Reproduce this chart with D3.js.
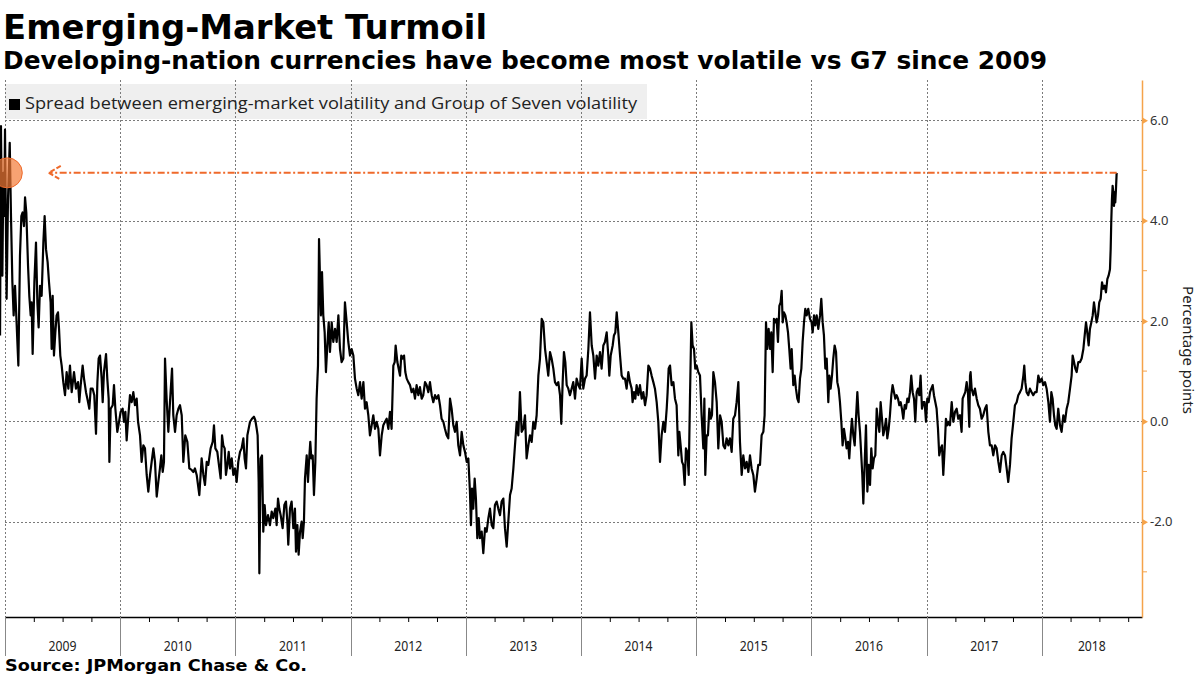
<!DOCTYPE html>
<html><head><meta charset="utf-8">
<script src="https://cdn.jsdelivr.net/npm/d3@7"></script>
<style>body{margin:0;background:#fff}svg{display:block}</style>
</head><body>
<svg id="chart" width="1200" height="675"></svg>
<script>
// ---- DATA (decimal year, percentage points) ----
const dates = [
2008.957,2008.965,2008.977,2008.986,2008.994,2009.000,2009.014,2009.026,2009.041,2009.052,2009.064,2009.075,2009.087,2009.098,2009.116,2009.130,2009.142,2009.153,2009.165,2009.174,2009.185,2009.200,2009.211,2009.223,2009.231,2009.240,2009.255,2009.269,2009.281,2009.292,2009.304,2009.318,2009.333,2009.344,2009.356,2009.370,2009.382,2009.396,2009.405,2009.414,2009.425,2009.437,2009.448,2009.460,2009.469,2009.480,2009.492,2009.506,2009.521,2009.535,2009.550,2009.564,2009.579,2009.599,2009.616,2009.634,2009.645,2009.657,2009.674,2009.686,2009.703,2009.715,2009.732,2009.744,2009.761,2009.775,2009.790,2009.802,2009.813,2009.825,2009.839,2009.848,2009.859,2009.877,2009.888,2009.900,2009.906,2009.917,2009.935,2009.946,2009.958,2009.975,2009.990,2010.004,2010.021,2010.033,2010.045,2010.056,2010.071,2010.085,2010.100,2010.114,2010.128,2010.143,2010.155,2010.172,2010.186,2010.201,2010.215,2010.230,2010.244,2010.259,2010.273,2010.288,2010.302,2010.317,2010.331,2010.345,2010.357,2010.369,2010.380,2010.389,2010.403,2010.418,2010.432,2010.450,2010.461,2010.476,2010.490,2010.505,2010.519,2010.534,2010.548,2010.565,2010.583,2010.600,
2010.620,2010.635,2010.649,2010.664,2010.687,2010.707,2010.722,2010.736,2010.751,2010.765,2010.785,2010.803,2010.814,2010.826,2010.843,2010.861,2010.872,2010.884,2010.895,2010.907,2010.918,2010.930,2010.942,2010.953,2010.968,2010.982,2010.997,2011.011,2011.025,2011.040,2011.054,2011.069,2011.080,2011.092,2011.104,2011.115,2011.127,2011.144,2011.161,2011.173,2011.185,2011.193,2011.202,2011.208,2011.219,2011.231,2011.242,2011.254,2011.266,2011.283,2011.300,2011.315,2011.329,2011.347,2011.358,2011.370,2011.381,2011.393,2011.410,2011.425,2011.439,2011.451,2011.459,2011.474,2011.488,2011.503,2011.517,2011.526,2011.538,2011.549,2011.561,2011.575,2011.584,2011.595,2011.604,2011.619,2011.630,2011.639,2011.650,2011.659,2011.671,2011.682,2011.694,2011.705,2011.717,2011.726,2011.734,2011.743,2011.752,2011.763,2011.775,2011.786,2011.798,2011.810,2011.821,2011.836,2011.850,2011.865,2011.879,2011.894,2011.908,2011.922,2011.937,2011.951,2011.966,2011.980,2011.995,2012.009,2012.024,2012.038,2012.053,2012.067,2012.082,2012.096,2012.111,2012.125,2012.139,2012.154,2012.168,2012.183,2012.197,2012.212,2012.226,2012.241,
2012.255,2012.270,2012.284,2012.299,2012.313,2012.328,2012.342,2012.356,2012.371,2012.383,2012.391,2012.406,2012.417,2012.429,2012.440,2012.452,2012.464,2012.475,2012.487,2012.501,2012.516,2012.530,2012.545,2012.559,2012.573,2012.588,2012.602,2012.617,2012.631,2012.646,2012.660,2012.675,2012.689,2012.704,2012.718,2012.733,2012.747,2012.762,2012.776,2012.790,2012.805,2012.819,2012.834,2012.848,2012.863,2012.877,2012.892,2012.906,2012.921,2012.935,2012.950,2012.964,2012.979,2012.993,2013.008,2013.022,2013.036,2013.045,2013.054,2013.065,2013.077,2013.088,2013.100,2013.112,2013.123,2013.138,2013.152,2013.167,2013.181,2013.196,2013.210,2013.225,2013.239,2013.253,2013.268,2013.282,2013.297,2013.311,2013.326,2013.340,2013.355,2013.369,2013.384,2013.398,2013.413,2013.427,2013.442,2013.456,2013.470,2013.485,2013.499,2013.514,2013.528,2013.543,2013.557,2013.572,2013.586,2013.601,2013.615,2013.630,2013.644,2013.659,2013.673,2013.688,2013.702,2013.716,2013.731,2013.745,2013.760,2013.774,2013.789,2013.803,2013.818,2013.829,2013.841,2013.852,2013.864,2013.876,2013.890,
2013.904,2013.919,2013.933,2013.948,2013.962,2013.977,2013.991,2014.006,2014.020,2014.035,2014.049,2014.064,2014.078,2014.093,2014.107,2014.122,2014.136,2014.150,2014.165,2014.179,2014.194,2014.208,2014.223,2014.237,2014.246,2014.258,2014.275,2014.286,2014.298,2014.310,2014.324,2014.339,2014.353,2014.367,2014.382,2014.396,2014.411,2014.425,2014.440,2014.448,2014.460,2014.472,2014.483,2014.498,2014.512,2014.527,2014.541,2014.556,2014.570,2014.585,2014.599,2014.613,2014.628,2014.642,2014.657,2014.671,2014.686,2014.700,2014.715,2014.729,2014.744,2014.752,2014.761,2014.773,2014.787,2014.802,2014.816,2014.830,2014.845,2014.854,2014.865,2014.877,2014.888,2014.900,2014.911,2014.923,2014.935,2014.946,2014.958,2014.969,2014.981,2014.992,2015.004,2015.018,2015.033,2015.047,2015.062,2015.071,2015.079,2015.091,2015.102,2015.114,2015.126,2015.137,2015.149,2015.163,2015.178,2015.192,2015.207,2015.221,2015.236,2015.250,2015.264,2015.279,2015.293,2015.308,2015.322,2015.337,2015.351,2015.366,2015.380,2015.395,2015.409,2015.424,2015.438,2015.453,2015.467,2015.481,2015.496,2015.510,2015.525,2015.539,
2015.554,2015.568,2015.583,2015.594,2015.606,2015.617,2015.629,2015.641,2015.652,2015.664,2015.675,2015.687,2015.698,2015.710,2015.722,2015.733,2015.742,2015.751,2015.762,2015.774,2015.785,2015.797,2015.808,2015.820,2015.829,2015.843,2015.855,2015.866,2015.878,2015.889,2015.901,2015.913,2015.924,2015.936,2015.947,2015.959,2015.973,2015.988,2016.002,2016.011,2016.023,2016.034,2016.046,2016.060,2016.075,2016.086,2016.098,2016.109,2016.121,2016.133,2016.147,2016.156,2016.167,2016.179,2016.190,2016.202,2016.214,2016.225,2016.237,2016.248,2016.260,2016.271,2016.283,2016.295,2016.306,2016.318,2016.329,2016.341,2016.352,2016.364,2016.376,2016.387,2016.399,2016.410,2016.422,2016.433,2016.442,2016.451,2016.462,2016.474,2016.486,2016.497,2016.509,2016.520,2016.532,2016.543,2016.555,2016.567,2016.578,2016.590,2016.601,2016.613,2016.624,2016.636,2016.648,2016.659,2016.671,2016.682,2016.694,2016.705,2016.717,2016.729,2016.740,2016.752,2016.763,2016.775,2016.786,2016.798,2016.810,2016.821,2016.833,2016.844,2016.856,2016.867,2016.879,2016.891,2016.902,2016.914,2016.925,2016.937,2016.948,2016.960,2016.972,2016.983,2016.995,2017.006,2017.018,2017.030,2017.041,2017.053,2017.064,2017.076,2017.087,2017.099,2017.110,2017.122,2017.134,2017.145,2017.157,2017.168,2017.180,2017.191,
2017.203,2017.218,2017.232,2017.247,2017.261,2017.275,2017.290,2017.304,2017.313,2017.325,2017.336,2017.348,2017.359,2017.371,2017.377,2017.382,2017.391,2017.406,2017.420,2017.435,2017.449,2017.463,2017.478,2017.492,2017.507,2017.521,2017.536,2017.550,2017.565,2017.579,2017.594,2017.608,2017.623,2017.637,2017.652,2017.666,2017.681,2017.695,2017.709,2017.724,2017.738,2017.753,2017.767,2017.782,2017.796,2017.811,2017.825,2017.840,2017.848,2017.857,2017.868,2017.883,2017.897,2017.912,2017.926,2017.941,2017.955,2017.970,2017.984,2017.999,2018.013,2018.028,2018.042,2018.057,2018.071,2018.083,2018.094,2018.106,2018.117,2018.129,2018.143,2018.158,2018.172,2018.187,2018.201,2018.216,2018.230,2018.245,2018.259,2018.268,2018.280,2018.291,2018.303,2018.317,2018.332,2018.346,2018.361,2018.375,2018.384,2018.395,2018.407,2018.418,2018.430,2018.442,2018.453,2018.465,2018.476,2018.488,2018.499,2018.511,2018.523,2018.534,2018.546,2018.557,2018.569,2018.580,2018.592,2018.598,2018.603,2018.609,2018.615,2018.621,2018.627,2018.632,2018.638,2018.644,2018.650
];
const spread = [
1.71,5.88,2.90,4.95,4.09,5.81,2.44,4.42,5.55,4.09,2.77,2.11,2.70,2.11,1.11,3.30,4.09,4.16,3.89,4.46,4.16,3.10,2.50,2.11,2.37,1.34,2.77,3.56,2.37,1.87,2.70,2.50,3.56,4.09,3.43,3.17,2.77,2.37,1.44,2.50,1.31,1.77,2.11,2.17,1.84,1.31,1.11,0.78,0.52,0.98,0.65,1.11,0.58,0.98,0.65,0.78,0.38,0.72,1.11,0.85,0.58,0.45,0.25,0.65,0.65,0.52,-0.25,0.78,1.25,1.31,0.85,0.38,0.98,1.34,0.85,0.45,-0.81,0.25,0.32,0.72,0.25,-0.21,-0.01,0.19,0.25,-0.01,0.19,-0.38,0.12,0.52,0.38,0.58,0.32,0.45,-0.01,-0.28,-0.81,-0.48,-0.54,-1.07,-1.40,-1.07,-0.81,-0.54,-0.81,-1.50,-1.21,-0.94,-0.68,-1.01,-0.81,1.25,0.45,-0.21,0.38,1.05,0.12,-0.21,0.12,0.25,0.32,0.12,-0.81,-0.28,-0.41,-0.94,
-0.97,-1.01,-0.94,-1.07,-1.47,-0.74,-1.07,-1.27,-0.81,-0.87,-0.54,-0.41,-0.08,-0.54,-0.61,-0.94,-1.14,-0.28,-0.48,-0.54,-1.07,-0.87,-0.61,-0.94,-0.74,-1.07,-0.94,-1.21,-0.81,-0.61,-0.54,-0.34,-0.74,-0.94,-0.28,-0.15,-0.01,0.05,0.09,0.02,-0.15,-0.28,-1.21,-3.03,-0.74,-0.68,-2.20,-1.67,-2.07,-1.87,-2.07,-1.80,-1.93,-1.74,-2.07,-1.54,-1.74,-1.87,-2.13,-1.67,-1.60,-2.00,-2.46,-1.74,-1.60,-2.13,-1.74,-2.60,-2.07,-2.66,-2.20,-2.00,-2.33,-2.00,-1.14,-0.68,-1.21,-0.81,-0.41,-0.74,-0.68,-1.47,-0.81,0.45,1.11,3.63,2.90,2.11,2.97,2.11,1.77,0.98,1.51,1.97,1.38,1.97,1.58,1.84,1.58,2.11,1.44,1.18,1.25,2.37,1.97,1.58,1.31,1.44,1.31,0.85,0.65,0.52,0.78,0.45,0.78,0.25,0.38,0.12,-0.28,-0.08,0.12,-0.15,-0.01,-0.15,
-0.68,-0.28,-0.08,-0.01,0.05,-0.15,0.19,-0.15,1.11,1.18,1.51,1.18,1.05,0.91,1.31,1.25,1.31,0.98,0.85,0.78,0.72,0.58,0.65,0.45,0.72,0.52,0.68,0.45,0.52,0.78,0.72,0.58,0.78,0.52,0.38,0.52,0.45,0.52,0.32,0.05,-0.01,-0.15,-0.28,-0.34,0.45,0.25,-0.08,-0.21,-0.01,-0.48,-0.68,-0.21,-0.48,-0.61,-0.81,-0.74,-1.40,-2.07,-1.34,-1.74,-1.14,-1.54,-2.33,-1.93,-2.33,-2.20,-2.63,-2.13,-2.20,-1.93,-1.74,-2.07,-2.13,-1.67,-1.60,-1.74,-1.87,-1.60,-1.54,-2.13,-2.50,-2.00,-1.47,-1.34,-0.94,-0.48,-0.01,-0.28,0.58,-0.21,-0.15,0.12,-0.74,-0.48,-0.28,-0.41,-0.01,-0.15,0.12,0.91,1.25,2.04,1.97,1.44,1.18,0.91,1.38,1.25,1.05,0.78,0.72,0.78,0.52,-0.05,0.78,1.38,1.18,0.72,0.65,
0.52,0.65,0.78,0.45,0.85,0.72,0.65,1.25,0.65,0.85,0.91,1.44,2.17,1.51,1.31,0.85,1.31,1.11,1.38,1.05,1.51,1.58,1.77,1.31,0.91,1.31,1.51,1.71,1.77,2.17,1.77,1.31,0.91,0.85,0.85,0.65,0.98,0.78,0.65,0.38,0.58,0.45,0.72,0.52,0.72,0.45,0.58,0.32,0.52,1.11,1.05,0.91,0.78,0.65,0.38,-0.01,-0.81,-0.28,-0.01,-0.21,0.25,0.58,1.05,1.11,0.72,0.78,0.45,0.32,-0.68,-0.21,-0.48,-0.81,-0.87,-1.27,-0.54,-0.61,-1.07,0.45,1.97,1.51,1.44,1.05,1.11,0.98,0.91,0.12,-0.54,0.45,-1.07,-0.28,-0.28,0.25,0.05,0.12,0.98,0.78,0.38,-0.54,0.12,-0.01,-0.48,-0.54,-0.34,-0.48,-0.34,-0.61,0.05,0.12,0.38,0.78,-0.41,-1.07,-0.68,-0.94,-0.81,-1.01,-0.68,-0.94,-1.07,-1.40,-1.14,-0.87,
-0.87,-0.28,-0.21,0.12,1.97,1.44,1.84,1.44,1.77,0.98,2.04,1.97,2.04,1.58,2.30,2.37,2.60,1.97,2.17,2.11,1.97,1.77,1.44,1.05,1.44,0.72,0.91,0.65,0.45,0.38,0.85,1.05,1.58,1.97,2.24,2.11,2.24,2.04,1.97,1.77,2.11,1.91,2.11,1.84,2.11,2.44,1.97,1.71,1.05,1.25,0.38,0.91,0.65,0.91,1.25,1.51,1.38,0.78,0.65,0.38,-0.01,-0.48,-0.15,-0.34,-0.54,-0.41,-0.74,-0.28,0.05,-0.28,-0.48,0.05,0.58,0.12,-0.21,-0.68,-1.07,-1.64,-0.87,-0.08,-1.40,-0.87,-1.27,-0.54,-0.94,-0.74,-0.68,0.25,-0.01,-0.21,0.38,0.05,-0.28,-0.15,0.05,-0.34,-0.15,0.12,0.52,0.72,0.58,0.45,0.52,0.45,0.32,0.38,0.25,0.05,0.32,0.25,0.45,0.38,0.58,0.91,0.58,0.45,-0.01,0.58,0.65,0.52,0.91,0.25,0.38,0.38,-0.01,0.45,0.38,0.58,0.65,0.72,0.52,0.38,0.25,-0.15,-0.68,-0.54,-0.48,-1.07,-0.54,0.05,-0.08,-0.01,
-0.08,0.38,-0.01,0.19,0.25,0.05,0.12,-0.21,0.45,0.52,0.58,0.78,0.58,-0.11,0.91,0.98,0.65,0.52,0.65,0.45,0.32,0.25,0.05,0.12,0.25,0.32,-0.21,-0.48,-0.48,-0.68,-0.48,-0.54,-0.81,-1.01,-0.68,-0.61,-0.68,-0.94,-1.21,-0.87,-0.34,-0.01,0.32,0.38,0.52,0.58,0.65,0.91,1.11,0.78,0.58,0.52,0.65,0.58,0.52,0.58,0.58,0.91,0.78,0.85,0.72,0.78,0.65,0.38,-0.01,0.58,0.45,0.12,-0.08,-0.15,0.25,-0.08,-0.21,0.12,-0.01,0.25,0.38,0.65,0.91,1.31,1.18,1.05,0.98,1.18,1.18,1.25,1.44,1.77,1.97,1.77,1.51,1.84,1.97,2.11,2.37,2.17,1.97,2.11,2.37,2.44,2.77,2.64,2.70,2.57,2.83,2.90,3.03,3.43,3.96,4.42,4.69,4.56,4.29,4.56,4.36,4.62,4.95
];
const yearLabels = ["2009","2010","2011","2012","2013","2014","2015","2016","2017","2018"];
const yTickValues = [-2, 0, 2, 4, 6];
const yMinorValues = [-3, -1, 1, 3, 5];
const peakValue = 4.95;          // level of the annotation line
const arrowTipDate = 2009.38;    // where the arrow points
const circleDate = 2009.02;      // highlighted early-2009 peak
const domainEnd = 2018.87;

if (dates.length !== spread.length) throw new Error("length mismatch " + dates.length + " vs " + spread.length);

// ---- CHART ----
const svg = d3.select("#chart");
const x = d3.scaleLinear().domain([2009, domainEnd]).range([5, 1142]);
const y = d3.scaleLinear().domain([-3.9, 6.8]).range([617, 80]);
const years = yearLabels.map(Number);
const orange = "#f5a34a";
const annot = "#ef6a2b";
const gridCol = "#7a7a7a";

// Titles
svg.append("text").attr("x", 3).attr("y", 39)
  .attr("font-family", "DejaVu Sans, Verdana, sans-serif").attr("font-weight", "bold")
  .attr("font-size", 33).attr("fill", "#000")
  .attr("textLength", 484).attr("lengthAdjust", "spacingAndGlyphs")
  .text("Emerging-Market Turmoil");
svg.append("text").attr("x", 3).attr("y", 69)
  .attr("font-family", "DejaVu Sans, Verdana, sans-serif").attr("font-weight", "bold")
  .attr("font-size", 24).attr("fill", "#000")
  .attr("textLength", 1044).attr("lengthAdjust", "spacingAndGlyphs")
  .text("Developing-nation currencies have become most volatile vs G7 since 2009");

// Legend background
svg.append("rect").attr("x", 5).attr("y", 84).attr("width", 642).attr("height", 35).attr("fill", "#efefef");

// Grid
const grid = svg.append("g").attr("stroke", gridCol).attr("stroke-width", 1)
  .attr("stroke-dasharray", "2,2").attr("shape-rendering", "crispEdges");
grid.selectAll("line.v").data(years).join("line").attr("class", "v")
  .attr("x1", d => Math.round(x(d)) + 0.5).attr("x2", d => Math.round(x(d)) + 0.5)
  .attr("y1", y.range()[1]).attr("y2", y.range()[0]);
grid.selectAll("line.h").data(yTickValues).join("line").attr("class", "h")
  .attr("x1", x(2009)).attr("x2", x(domainEnd))
  .attr("y1", d => Math.round(y(d)) + 0.5).attr("y2", d => Math.round(y(d)) + 0.5);

// Legend items
svg.append("rect").attr("x", 9).attr("y", 99).attr("width", 11).attr("height", 11).attr("fill", "#000");
svg.append("text").attr("x", 25).attr("y", 109)
  .attr("font-family", "Open Sans, Noto Sans, sans-serif").attr("font-size", 16).attr("fill", "#222")
  .attr("textLength", 612).attr("lengthAdjust", "spacingAndGlyphs")
  .text("Spread between emerging-market volatility and Group of Seven volatility");

// Bottom axis (quarter ticks)
const quarters = [];
years.forEach(yr => [0.25, 0.5, 0.75].forEach(q => { if (yr + q < domainEnd) quarters.push(yr + q); }));
const xAxis = d3.axisBottom(x).tickValues(quarters).tickSize(5).tickSizeOuter(0).tickFormat("");
const gx = svg.append("g").attr("transform", "translate(0,617)").call(xAxis);
gx.select(".domain").attr("stroke", "#000").attr("stroke-width", 1.5);
gx.selectAll(".tick line").attr("stroke", "#000");

// Year separators and labels
svg.append("g").selectAll("line").data(years).join("line")
  .attr("x1", d => Math.round(x(d)) + 0.5).attr("x2", d => Math.round(x(d)) + 0.5)
  .attr("y1", 617).attr("y2", 656).attr("stroke", "#888").attr("stroke-width", 1);
svg.append("g").selectAll("text").data(yearLabels).join("text")
  .attr("x", d => x((+d + Math.min(+d + 1, domainEnd)) / 2))
  .attr("y", 651).attr("text-anchor", "middle")
  .attr("font-family", "Noto Sans, sans-serif").attr("font-size", 14).attr("fill", "#222")
  .attr("textLength", 28).attr("lengthAdjust", "spacingAndGlyphs")
  .text(d => d);

// Right axis
const yAxis = d3.axisRight(y).tickValues(yTickValues).tickSize(0).tickPadding(8)
  .tickFormat(d => d.toFixed(1));
const gy = svg.append("g").attr("transform", "translate(1142,0)").call(yAxis);
gy.select(".domain").attr("stroke", orange).attr("stroke-width", 1.5);
gy.selectAll(".tick text").attr("font-family", "Noto Sans, sans-serif").attr("font-size", 13).attr("fill", "#333");
gy.selectAll(".tick").append("path").attr("d", "M0,-3.5L6,0L0,3.5Z").attr("fill", orange);
svg.append("g").selectAll("line").data(yMinorValues).join("line")
  .attr("x1", 1142).attr("x2", 1147)
  .attr("y1", d => y(d)).attr("y2", d => y(d))
  .attr("stroke", orange).attr("stroke-width", 1);
svg.append("text").attr("transform", "translate(1183,350) rotate(90)")
  .attr("text-anchor", "middle")
  .attr("font-family", "Noto Sans, sans-serif").attr("font-size", 15).attr("fill", "#222")
  .text("Percentage points");

// Series line
const line = d3.line().x(d => x(d[0])).y(d => y(d[1]));
svg.append("path").datum(dates.map((d, i) => [d, spread[i]]))
  .attr("d", line).attr("fill", "none").attr("stroke", "#000")
  .attr("stroke-width", 2.2).attr("stroke-linejoin", "round");

// Annotation
const lastDate = dates[dates.length - 1];
const ay = y(peakValue);
const tipX = x(arrowTipDate);
svg.append("path")
  .attr("d", `M${x(lastDate)},${ay}L${tipX},${ay}`)
  .attr("stroke", annot).attr("stroke-width", 2).attr("fill", "none")
  .attr("stroke-dasharray", "7,2.5,2,2.5");
svg.append("path")
  .attr("d", `M${tipX + 12},${ay - 7}L${tipX},${ay}L${tipX + 12},${ay + 7}`)
  .attr("stroke", annot).attr("stroke-width", 2).attr("fill", "none")
  .attr("stroke-dasharray", "5,2");
svg.append("circle").attr("cx", x(circleDate)).attr("cy", ay).attr("r", 15)
  .attr("fill", "#f47a36").attr("fill-opacity", 0.7)
  .attr("stroke", annot).attr("stroke-width", 1);

// Source
svg.append("text").attr("x", 5).attr("y", 671)
  .attr("font-family", "DejaVu Sans, Verdana, sans-serif").attr("font-weight", "bold")
  .attr("font-size", 16).attr("fill", "#000")
  .attr("textLength", 302).attr("lengthAdjust", "spacingAndGlyphs")
  .text("Source: JPMorgan Chase & Co.");
</script>
</body></html>
